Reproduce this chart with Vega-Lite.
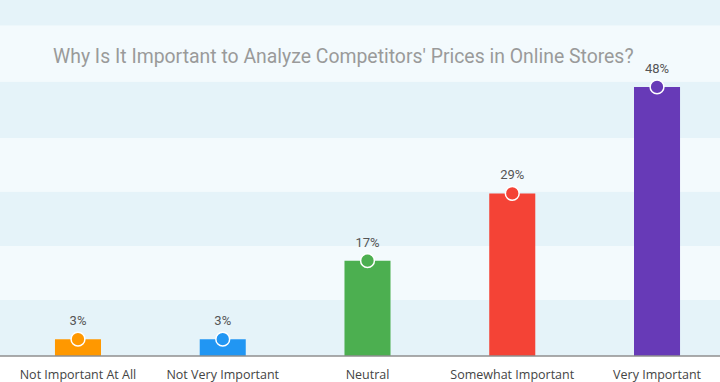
{
  "$schema": "https://vega.github.io/schema/vega-lite/v6.json",
  "width": 720,
  "height": 356,
  "autosize": {"type": "none"},
  "padding": {"left": 0, "top": 0, "right": 0, "bottom": 26},
  "background": "white",
  "title": {
    "text": "Why Is It Important to Analyze Competitors' Prices in Online Stores?",
    "font": "Roboto",
    "fontSize": 19.4,
    "fontWeight": 400,
    "color": "#9a9a9a",
    "anchor": "start",
    "frame": "group",
    "dx": 53,
    "baseline": "alphabetic",
    "offset": -82
  },
  "config": {"view": {"stroke": null}},
  "datasets": {
    "stripes": [
      {"lo": 58.9, "hi": 63.5, "shade": "dark"},
      {"lo": 48.9, "hi": 58.9, "shade": "light"},
      {"lo": 38.9, "hi": 48.9, "shade": "dark"},
      {"lo": 29.3, "hi": 38.9, "shade": "light"},
      {"lo": 19.6, "hi": 29.3, "shade": "dark"},
      {"lo": 10, "hi": 19.6, "shade": "light"},
      {"lo": 0, "hi": 10, "shade": "dark"}
    ],
    "bars": [
      {"answer": "Not Important At All", "value": 3, "label": "3%"},
      {"answer": "Not Very Important", "value": 3, "label": "3%"},
      {"answer": "Neutral", "value": 17, "label": "17%"},
      {"answer": "Somewhat Important", "value": 29, "label": "29%"},
      {"answer": "Very Important", "value": 48, "label": "48%"}
    ]
  },
  "layer": [
    {
      "data": {"name": "stripes"},
      "mark": {"type": "rect"},
      "encoding": {
        "y": {"field": "lo", "type": "quantitative", "scale": {"domain": [0, 63.5], "nice": false, "zero": true}, "axis": null},
        "y2": {"field": "hi"},
        "fill": {"field": "shade", "type": "nominal", "scale": {"domain": ["dark", "light"], "range": ["#e5f3f9", "#f3fafd"]}, "legend": null}
      }
    },
    {
      "data": {"name": "bars"},
      "layer": [
        {
          "mark": {"type": "bar"},
          "encoding": {
            "color": {"field": "answer", "type": "nominal", "sort": null, "scale": {"domain": ["Not Important At All", "Not Very Important", "Neutral", "Somewhat Important", "Very Important"], "range": ["#ff9800", "#2196f3", "#4caf50", "#f44336", "#673ab7"]}, "legend": null}
          }
        },
        {
          "mark": {"type": "point", "filled": true, "shape": "circle", "size": 190, "stroke": "white", "strokeWidth": 1.5, "strokeOpacity": 1, "opacity": 1},
          "encoding": {
            "fill": {"field": "answer", "type": "nominal", "sort": null, "scale": {"domain": ["Not Important At All", "Not Very Important", "Neutral", "Somewhat Important", "Very Important"], "range": ["#ff9800", "#2196f3", "#4caf50", "#f44336", "#673ab7"]}, "legend": null}
          }
        },
        {
          "mark": {"type": "text", "font": "Roboto", "fontSize": 13, "color": "#555555", "baseline": "alphabetic", "dy": -14},
          "encoding": {
            "text": {"field": "label", "type": "nominal"}
          }
        }
      ],
      "encoding": {
        "x": {
          "field": "answer", "type": "nominal", "sort": null,
          "scale": {"range": [5.6, 729.4], "paddingInner": 0.682, "paddingOuter": 0.341},
          "axis": {"title": null, "labelAngle": 0, "ticks": false, "domain": false, "labelFont": "Open Sans", "labelFontSize": 12.5, "labelColor": "#444444", "labelPadding": 12}
        },
        "y": {"field": "value", "type": "quantitative"}
      }
    },
    {
      "data": {"values": [{"base": 0}]},
      "mark": {"type": "rule", "color": "#8f8f8f", "strokeWidth": 1.5},
      "encoding": {"y": {"field": "base", "type": "quantitative"}}
    }
  ],
  "resolve": {"scale": {"fill": "independent"}}
}
